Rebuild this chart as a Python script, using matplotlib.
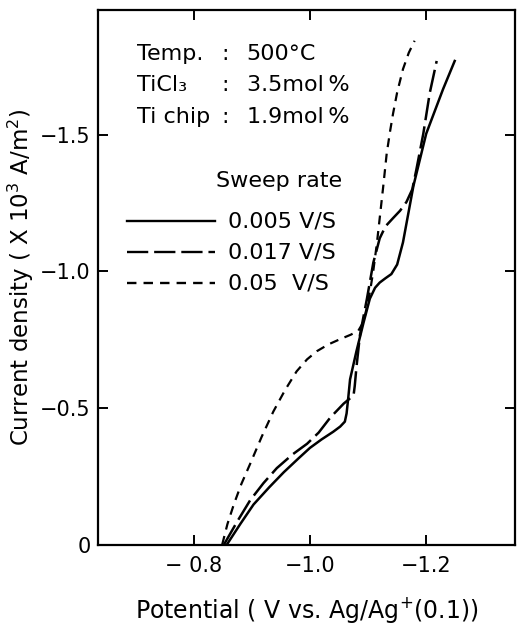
import numpy as np
import matplotlib
matplotlib.use("Agg")
import matplotlib.pyplot as plt

# potential (V vs Ag/Ag+) and current density (x10^3 A/m2)
pot_005 = [-0.857, -0.880, -0.903, -0.930, -0.955, -0.980, -1.000, -1.020, -1.040,
           -1.052, -1.060, -1.063, -1.066, -1.069, -1.080, -1.092, -1.103, -1.112,
           -1.120, -1.130, -1.140, -1.150, -1.160, -1.178, -1.200, -1.229, -1.249]
cur_005 = [0.0, -0.075, -0.147, -0.210, -0.265, -0.315, -0.354, -0.385, -0.413,
           -0.432, -0.450, -0.480, -0.540, -0.605, -0.708, -0.811, -0.900, -0.940,
           -0.959, -0.975, -0.990, -1.025, -1.106, -1.313, -1.504, -1.667, -1.770]

pot_017 = [-0.852, -0.875, -0.897, -0.920, -0.943, -0.970, -0.995, -1.015, -1.035,
           -1.058, -1.075, -1.077, -1.080, -1.086, -1.098, -1.109, -1.120, -1.130,
           -1.143, -1.155, -1.166, -1.176, -1.183, -1.195, -1.206, -1.218]
cur_017 = [0.0, -0.085, -0.162, -0.225, -0.280, -0.330, -0.369, -0.410, -0.465,
           -0.516, -0.546, -0.580, -0.650, -0.767, -0.900, -1.032, -1.121, -1.165,
           -1.195, -1.222, -1.254, -1.300, -1.372, -1.504, -1.652, -1.770]

pot_05 = [-0.849, -0.858, -0.869, -0.882, -0.897, -0.917, -0.937, -0.957, -0.977,
          -0.995, -1.012, -1.032, -1.052, -1.070, -1.083, -1.092, -1.098, -1.104,
          -1.109, -1.115, -1.120, -1.126, -1.132, -1.138, -1.143, -1.150, -1.160,
          -1.170, -1.180]
cur_05 = [0.0, -0.075, -0.147, -0.222, -0.295, -0.395, -0.487, -0.565, -0.634,
          -0.678, -0.708, -0.733, -0.752, -0.768, -0.782, -0.815, -0.870, -0.935,
          -1.003, -1.100, -1.195, -1.310, -1.431, -1.515, -1.578, -1.655, -1.740,
          -1.800, -1.844]

x_ticks = [-0.8, -1.0, -1.2]
x_tick_labels = ["\u2212 0.8", "\u22121.0", "\u22121.2"]
y_ticks = [0, -0.5, -1.0, -1.5]
y_tick_labels = ["0", "\u22120.5", "\u22121.0", "\u22121.5"]

plt.rcParams["font.family"] = ["DejaVu Sans"]

fig = plt.figure(figsize=(5.23, 6.34), dpi=100)
ax = fig.add_axes([0.187, 0.141, 0.798, 0.843])

ax.plot(pot_005, cur_005, color="black", lw=1.8, ls="-")
ax.plot(pot_017, cur_017, color="black", lw=1.8, dashes=(9, 2.5))
ax.plot(pot_05, cur_05, color="black", lw=1.6, dashes=(4, 3))

ax.set_xlim(-0.635, -1.353)
ax.set_ylim(0, -1.956)

ax.set_xticks(x_ticks)
ax.set_xticklabels(x_tick_labels)
ax.set_yticks(y_ticks)
ax.set_yticklabels(y_tick_labels)
ax.tick_params(direction="in", length=7, width=1.4, labelsize=15,
               top=True, right=True)
ax.tick_params(axis="x", pad=8)
ax.tick_params(axis="y", pad=5)
for s in ax.spines.values():
    s.set_linewidth(1.6)

ax.set_xlabel("Potential ( V vs. Ag/Ag$^{+}$(0.1))", fontsize=17, labelpad=14)
ax.set_ylabel("Current density ( X 10$^3$ A/m$^2$)", fontsize=16.5, labelpad=3)

# condition block
tr = ax.transAxes
rows = [("Temp.", "500\u00b0C"), ("TiCl\u2083", "3.5mol\u2009%"), ("Ti chip", "1.9mol\u2009%")]
for i, (k, v) in enumerate(rows):
    yy = 0.918 - i * 0.0585
    ax.text(0.0935, yy, k, transform=tr, fontsize=16, va="center", ha="left")
    ax.text(0.305, yy, ":", transform=tr, fontsize=16, va="center", ha="center")
    ax.text(0.357, yy, v, transform=tr, fontsize=16, va="center", ha="left")

# sweep rate key
ax.text(0.585, 0.680, "Sweep rate", transform=tr, fontsize=16, va="center", ha="right")
styles = [dict(ls="-"), dict(dashes=(9, 2.5)), dict(dashes=(4, 3))]
labels = ["0.005 V/S", "0.017 V/S", "0.05  V/S"]
for i, (st, lab) in enumerate(zip(styles, labels)):
    yy = 0.6053 - i * 0.058
    ax.plot([0.0695, 0.2806], [yy, yy], transform=tr, color="black", lw=1.7, **st)
    ax.text(0.312, yy, lab, transform=tr, fontsize=16, va="center", ha="left")

fig.savefig("out.png", dpi=100)
